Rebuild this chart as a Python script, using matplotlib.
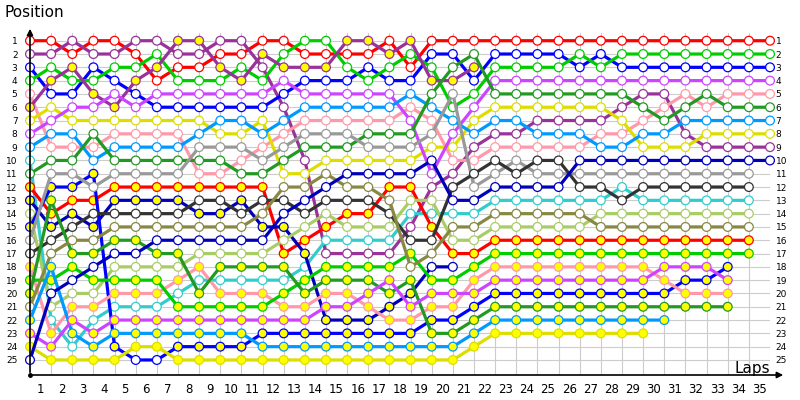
import matplotlib
matplotlib.use("Agg")
import matplotlib.pyplot as plt

# one letter per car, upper case = first car (white markers), lower case = team mate (yellow markers)
colours = {
    'R': '#ff0000', 'U': '#993399', 'B': '#0000ff', 'G': '#00cc00',
    'P': '#ff99aa', 'Y': '#dddd00', 'V': '#cc44ff', 'L': '#0099ff',
    'C': '#33cccc', 'D': '#229922', 'A': '#999999', 'K': '#333333',
    'E': '#aacc66', 'O': '#888844', 'N': '#0000bb',
}

# running order after each lap (lap 0 = grid), first letter = P1
order = [
    "RUBGPuYVLCDrnEbAKpgdOlvyN",  # 0
    "RUGuBYVLPDAbdrnKOlgNECpvy",  # 1
    "URuGBVYLPDAbrnKOdgNEpvlCy",  # 2
    "RUBGuVYDPLbArKnOdNgEpCvly",  # 3
    "RUGBVuYPLDArnKOdNEgpCvlby",  # 4
    "URGuBVYPLDArnKOdNEgpCvlyb",  # 5
    "UGuRVBYPLDArnKONdEgpCvlyb",  # 6
    "uURGVBYPLDArnKONdEpCgvlby",  # 7
    "uURGVBYLADPrKnONEpCdgvlby",  # 8
    "URuGVBLYADPrKnONEdCpgvlby",  # 9
    "URGuVBLYAPDrnKONEdCpgvlby",  # 10
    "RuUGVBYLPADrKOnNEdCpgvbly",  # 11
    "RGuVBULPADYOKNnErdCgpvbly",  # 12
    "GRuBVLPADUYONKErnCgdpvbly",  # 13
    "GRuBVLPADYONKErCUgdpvnbly",  # 14
    "uRGBVLPADYNOKrECUgdpvnbly",  # 15
    "uRBGVLPDAYNOKrECUgdvpnbly",  # 16
    "RuGBVLPDAYNrOKECUgvdnpbly",  # 17
    "uGRBLPVDAYNrECUKgOdnvpbly",  # 18
    "RBGuDLPAYNVUECrKOngvpbdly",  # 19
    "RBDuAGLVYPUKNCOErngvpbdly",  # 20
    "RDuBGVYLUPKANCOErgpvbdly",   # 21
    "RBGVDYLUPKANCOErgpvbdly",    # 22
    "RBGVDYLUPAKNCOErgpvbdly",    # 23
    "RBGVDYULPKANCOErgpvbdly",    # 24
    "RBGVDYULPKANCOErgpvbdly",    # 25
    "RGBVDYULPNAKCOErgpvbdly",    # 26
    "RBGVDYUPLNAKCEOrgpvbdly",    # 27
    "RGBVDUYPLNACKEOrgpvbdly",    # 28
    "RGBVUDPLYNAKCEOrgpvbdly",    # 29
    "RGBVUPDLYNAKCEOrgvpbdl",     # 30
    "RGBVPDLUYNAKCEOrgvbpd",      # 31
    "RGBVDPLYUNAKCEOrgvbpd",      # 32
    "RGBVPDLYUNAKCEOrgbvpd",      # 33
    "RGBVPDLYUNAKCEOrg",          # 34
    "RGBVPDLYUN",                 # 35
]

# markers whose fill differs from the car's usual one
fill_swaps = [('b', 5), ('b', 6), ('n', 19), ('n', 20)]

n_laps = 35
n_pos = 25

fig = plt.figure(figsize=(8, 4), dpi=100)
ax = fig.add_axes([30 / 800, 25 / 400, 740 / 800, 342 / 400])
ax.set_xlim(0, n_laps)
ax.set_ylim(26.13, 0.42)

for s in ax.spines.values():
    s.set_visible(False)

ax.set_xticks(range(0, n_laps + 1))
ax.set_xticklabels([])
ax.set_xticks([k - 0.5 for k in range(1, n_laps + 1)], minor=True)
ax.set_xticklabels([str(k) for k in range(1, n_laps + 1)], minor=True, fontsize=8.5)
ax.set_yticks(range(1, n_pos + 1))
ax.set_yticklabels([str(p) for p in range(1, n_pos + 1)], fontsize=6.5)
ax.tick_params(axis='x', which='both', length=0, pad=6)
ax.tick_params(axis='y', length=0, pad=9)
ax.grid(True, which='major', color='#cccccc', lw=0.8)
ax.set_axisbelow(True)

# position numbers again on the right
ax2 = ax.twinx()
ax2.set_ylim(ax.get_ylim())
ax2.set_yticks(range(1, n_pos + 1))
ax2.set_yticklabels([str(p) for p in range(1, n_pos + 1)], fontsize=6.5)
ax2.tick_params(axis='y', length=0, pad=4)
for s in ax2.spines.values():
    s.set_visible(False)

drivers = order[0]
for i, code in enumerate(drivers):
    laps, pos = [], []
    for k, o in enumerate(order):
        if code in o:
            laps.append(k)
            pos.append(o.index(code) + 1)
    c = colours[code.upper()]
    ax.plot(laps, pos, '-', color=c, lw=2.3, zorder=2 + i * 0.01, clip_on=False)
    faces = []
    for k in laps:
        yellow = code.islower()
        if (code, k) in fill_swaps:
            yellow = not yellow
        faces.append('#ffff00' if yellow else 'white')
    ax.scatter(laps, pos, s=40, c=faces, edgecolors=c, linewidths=0.9,
               zorder=2.005 + i * 0.01, clip_on=False)

# axis arrows (figure pixels, origin bottom left)
ax.annotate('', xy=(30, 374), xytext=(30, 25), xycoords='figure pixels',
            arrowprops=dict(arrowstyle='-|>', color='black', lw=1.2, mutation_scale=9))
ax.annotate('', xy=(786, 25), xytext=(30, 25), xycoords='figure pixels',
            arrowprops=dict(arrowstyle='-|>', color='black', lw=1.2, mutation_scale=9))
ax.plot([0], [26.13], 'o', color='black', ms=2.5, clip_on=False, zorder=5)
fig.text(4 / 800, 1 - 5 / 400, 'Position', fontsize=11, va='top', ha='left')
fig.text(770 / 800, 1 - 373 / 400, 'Laps', fontsize=11, va='baseline', ha='right')

fig.savefig('out.png', dpi=100)
